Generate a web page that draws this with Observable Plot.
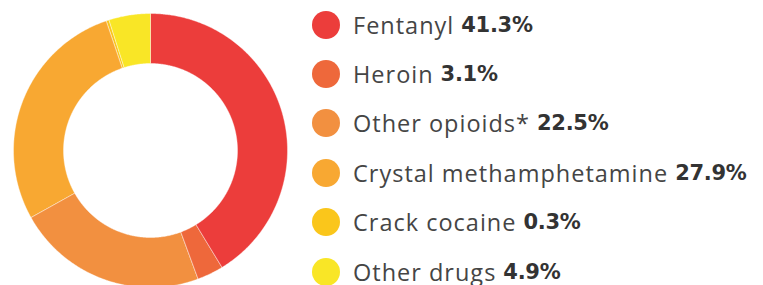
<!DOCTYPE html>
<html><head><meta charset="utf-8">
<script src="https://cdn.jsdelivr.net/npm/d3@7"></script>
<script src="https://cdn.jsdelivr.net/npm/@observablehq/plot@0.6"></script>
<style>
html,body{margin:0;padding:0;background:#fff;overflow:hidden;}
#wrap{position:relative;width:763px;height:285px;}
#chart{position:absolute;left:0;top:0;}
#legend{position:absolute;left:312px;top:0;}
.row{height:49.4px;display:flex;align-items:center;white-space:nowrap;}
.sw{width:28px;height:28px;border-radius:50%;margin-right:13px;flex:none;}
.lab{font-family:"Open Sans",sans-serif;font-size:23.5px;letter-spacing:1px;color:#454545;}
.val{font-family:"DejaVu Sans",sans-serif;font-weight:bold;font-size:21px;letter-spacing:-0.3px;color:#333;margin-left:7px;}
</style></head>
<body><div id="wrap"><div id="chart"></div><div id="legend"></div></div>
<script>
const categories = ["Fentanyl", "Heroin", "Other opioids*", "Crystal methamphetamine", "Crack cocaine", "Other drugs"];
const values = [41.3, 3.1, 22.5, 27.9, 0.3, 4.9];
const colors = ["#EC3D3B", "#EE683B", "#F29040", "#F8A832", "#FAC61B", "#F9E626"];

const total = d3.sum(values);
const outerColat = 60, innerColat = 60 * 87 / 137;
let cum = 0;
const features = categories.map((drug, i) => {
  const a0 = cum / total * 360; cum += values[i]; const a1 = cum / total * 360;
  const n = Math.max(2, Math.ceil((a1 - a0) / 0.5));
  const ring = [];
  for (let k = 0; k <= n; k++) { const a = a0 + (a1 - a0) * k / n; ring.push([180 - a, 90 - outerColat]); }
  for (let k = n; k >= 0; k--) { const a = a0 + (a1 - a0) * k / n; ring.push([180 - a, 90 - innerColat]); }
  ring.push(ring[0]);
  let f = {type: "Feature", properties: {drug, value: values[i]}, geometry: {type: "Polygon", coordinates: [ring]}};
  if (d3.geoArea(f) > 2 * Math.PI) { ring.reverse(); }
  return f;
});

const plot = Plot.plot({
  width: 300, height: 287,
  marginLeft: 13, marginRight: 13, marginTop: 13, marginBottom: 0,
  projection: {type: "azimuthal-equidistant", rotate: [0, -90], domain: d3.geoCircle().center([0, 90]).radius(outerColat)(), inset: 0},
  color: {domain: categories, range: colors},
  marks: [
    Plot.geo(features, {fill: d => d.properties.drug, stroke: "white", strokeWidth: 0.4})
  ]
});
document.getElementById("chart").appendChild(plot);

const cs = plot.scale("color");
const legend = document.getElementById("legend");
categories.forEach((c, i) => {
  const row = document.createElement("div"); row.className = "row";
  const sw = document.createElement("span"); sw.className = "sw"; sw.style.background = cs.apply(c);
  const lab = document.createElement("span"); lab.className = "lab"; lab.textContent = c;
  const val = document.createElement("span"); val.className = "val"; val.textContent = values[i].toFixed(1) + "%";
  row.append(sw, lab, val); legend.appendChild(row);
});
</script></body></html>
